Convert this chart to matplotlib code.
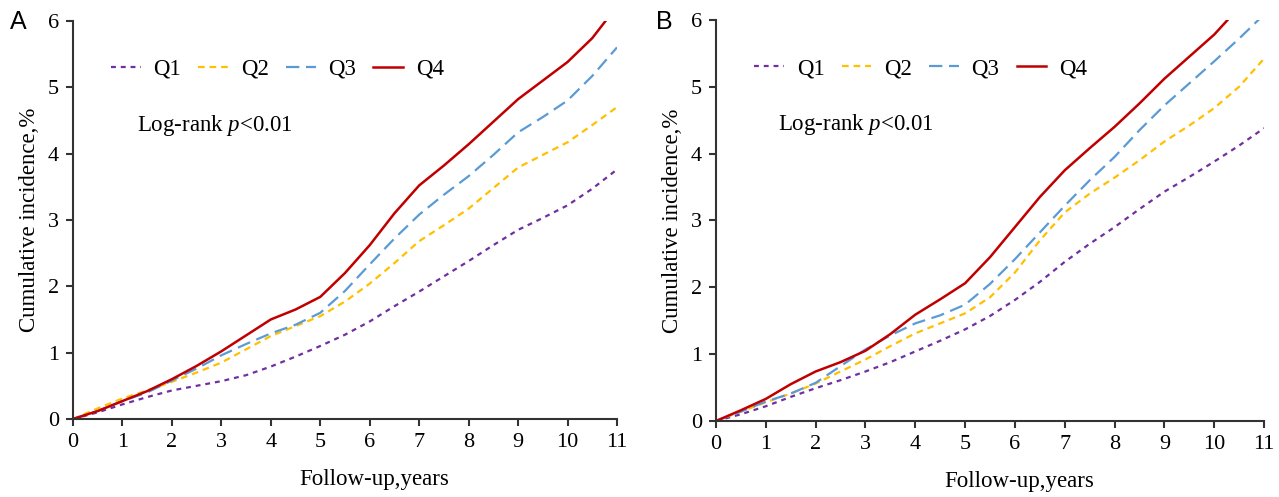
import matplotlib
matplotlib.use("Agg")
import matplotlib.pyplot as plt

# follow-up time points (years)
years = [0, 0.5, 1, 1.5, 2, 2.5, 3, 3.5, 4, 4.5, 5, 5.5, 6, 6.5, 7, 7.5, 8, 8.5, 9, 9.5, 10, 10.5, 11]

# panel A cumulative incidence, %
a_q1 = [0, 0.10, 0.22, 0.33, 0.43, 0.50, 0.57, 0.66, 0.79, 0.94, 1.10, 1.27, 1.47, 1.70, 1.92, 2.15, 2.38, 2.62, 2.85, 3.03, 3.22, 3.47, 3.76]
a_q2 = [0, 0.16, 0.31, 0.43, 0.56, 0.70, 0.85, 1.05, 1.25, 1.40, 1.55, 1.77, 2.04, 2.35, 2.68, 2.92, 3.17, 3.48, 3.79, 3.98, 4.17, 4.43, 4.70]
a_q3 = [0, 0.12, 0.27, 0.40, 0.58, 0.76, 0.96, 1.13, 1.29, 1.42, 1.60, 1.93, 2.33, 2.72, 3.08, 3.38, 3.66, 3.98, 4.32, 4.55, 4.80, 5.17, 5.60]
a_q4_years = years[:22] + [10.77]
a_q4 = [0, 0.12, 0.27, 0.42, 0.60, 0.80, 1.02, 1.26, 1.50, 1.65, 1.84, 2.20, 2.62, 3.10, 3.52, 3.82, 4.14, 4.48, 4.82, 5.10, 5.38, 5.74, 6.00]

# panel B cumulative incidence, %
b_q1 = [0, 0.10, 0.22, 0.36, 0.49, 0.61, 0.74, 0.88, 1.04, 1.20, 1.37, 1.57, 1.81, 2.08, 2.38, 2.65, 2.90, 3.17, 3.43, 3.65, 3.88, 4.12, 4.38]
b_q2 = [0, 0.14, 0.28, 0.41, 0.56, 0.74, 0.92, 1.12, 1.31, 1.46, 1.61, 1.85, 2.22, 2.70, 3.12, 3.40, 3.64, 3.90, 4.18, 4.42, 4.68, 5.00, 5.42]
b_q3 = [0, 0.14, 0.29, 0.41, 0.57, 0.82, 1.07, 1.28, 1.46, 1.58, 1.74, 2.05, 2.42, 2.82, 3.22, 3.60, 3.95, 4.35, 4.72, 5.05, 5.38, 5.72, 6.08]
b_q4_years = years[:21] + [10.27]
b_q4 = [0, 0.16, 0.33, 0.55, 0.74, 0.88, 1.05, 1.30, 1.59, 1.82, 2.06, 2.45, 2.90, 3.35, 3.75, 4.08, 4.40, 4.75, 5.12, 5.45, 5.78, 6.00]

labels = ["Q1", "Q2", "Q3", "Q4"]
colors = ["#7030A0", "#FFC000", "#5B9BD5", "#C00000"]
dashes = [(2.2, 2.2), (3, 2.2), (6, 3), None]

plt.rcParams['font.family'] = ['Liberation Serif', 'DejaVu Serif']
plt.rcParams['mathtext.fontset'] = 'custom'
plt.rcParams['mathtext.rm'] = 'Liberation Serif'
plt.rcParams['mathtext.it'] = 'Liberation Serif:italic'

fig = plt.figure(figsize=(12.79, 4.97), dpi=100)
ax1 = fig.add_axes([0.0571, 0.157, 0.4253, 0.801])
ax2 = fig.add_axes([0.5598, 0.153, 0.4285, 0.807])

panels = [
    (ax1, [(years, a_q1), (years, a_q2), (years, a_q3), (a_q4_years, a_q4)], (0.118, 0.737)),
    (ax2, [(years, b_q1), (years, b_q2), (years, b_q3), (b_q4_years, b_q4)], (0.113, 0.74)),
]

for ax, series, txt_pos in panels:
    for (xs, ys), lab, c, d in zip(series, labels, colors, dashes):
        line, = ax.plot(xs, ys, color=c, lw=1.6, label=lab)
        if d is not None:
            line.set_dashes(d)
        else:
            line.set_linewidth(1.8)
    ax.set_xlim(0, 11)
    ax.set_ylim(0, 6)
    ax.set_xticks(range(12))
    ax.set_yticks(range(7))
    for s in ["top", "right"]:
        ax.spines[s].set_visible(False)
    for s in ["left", "bottom"]:
        ax.spines[s].set_linewidth(1.5)
        ax.spines[s].set_color("#333333")
    ax.tick_params(direction="out", length=5, width=1.5, color="#333333", labelsize=16, pad=5)
    ax.set_xlabel("Follow-up,years", fontsize=16.5, va="center")
    ax.xaxis.set_label_coords(0.553, -0.152)
    ax.set_ylabel("Cumulative incidence,%", fontsize=16.5, labelpad=6)
    ax.legend(loc="upper left", bbox_to_anchor=(0.07, 0.905), ncol=4, frameon=False,
              fontsize=16.5, handlelength=1.3, handletextpad=0.55, columnspacing=0.75,
              borderaxespad=0, borderpad=0)
    ax.text(txt_pos[0], txt_pos[1], "Log-rank $\\mathit{p}$<0.01", transform=ax.transAxes,
            fontsize=16.5, va="center", ha="left")

fig.text(0.008, 0.955, "A", fontsize=18, family="Liberation Sans", va="center")
fig.text(0.513, 0.955, "B", fontsize=18, family="Liberation Sans", va="center")

plt.savefig("out.png", dpi=100)
